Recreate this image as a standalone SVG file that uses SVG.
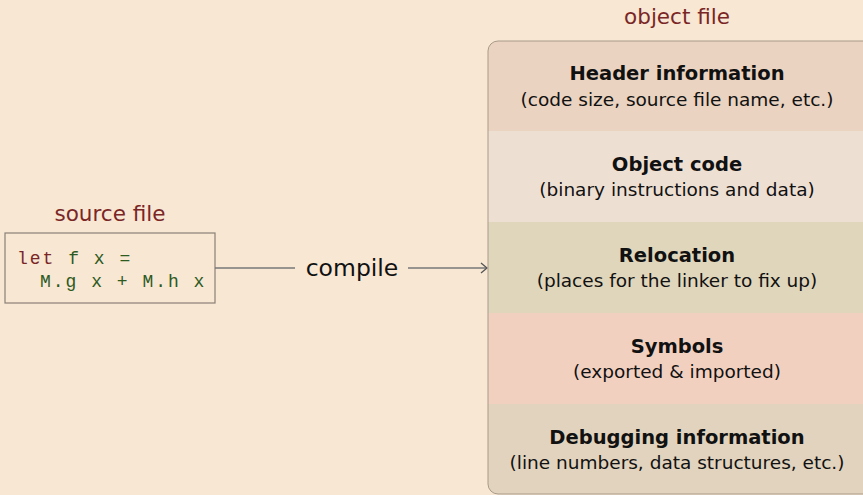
<svg xmlns="http://www.w3.org/2000/svg" width="863" height="495" viewBox="0 0 863 495">
<style>
.lbl{font-family:"DejaVu Sans","Liberation Sans",sans-serif;fill:#7a2626;font-size:21.5px;text-anchor:middle}
.t{font-family:"DejaVu Sans","Liberation Sans",sans-serif;font-weight:bold;font-size:19.5px;fill:#111;text-anchor:middle}
.s{font-family:"DejaVu Sans","Liberation Sans",sans-serif;font-size:18.5px;fill:#111;text-anchor:middle}
.code{font-family:"Liberation Mono","DejaVu Sans Mono",monospace;font-size:18px;letter-spacing:2px;fill:#2d5a1e}
.kw{fill:#7a2626}
.edge{stroke:#777;stroke-width:1.5;fill:none}
</style>
<defs>
<marker id="arr" markerWidth="10" markerHeight="12" refX="8" refY="6" orient="auto" markerUnits="userSpaceOnUse">
<path d="M2,1 L8,6 L2,11" fill="none" stroke="#555" stroke-width="1.3"/>
</marker>
<clipPath id="objclip"><rect x="488" y="41" width="390" height="453" rx="10"/></clipPath>
</defs>
<rect width="863" height="495" fill="#f8e7d3"/>
<g id="source">
<text class="lbl" x="110" y="221">source file</text>
<rect x="5" y="233" width="210" height="70" fill="#f8e7d3" stroke="#8a8078" stroke-width="1.2"/>
<text class="code" x="17" y="264"><tspan class="kw">let</tspan> f x =</text>
<text class="code" x="40" y="287">M.g x + M.h x</text>
</g>
<g id="connectors">
<line class="edge" x1="215" y1="268" x2="295" y2="268"/>
<line class="edge" x1="408" y1="268" x2="487" y2="268" marker-end="url(#arr)"/>
<text x="352" y="276" font-family="'DejaVu Sans','Liberation Sans',sans-serif" font-size="23.5" fill="#111" text-anchor="middle">compile</text>
</g>
<g id="object">
<text class="lbl" x="677" y="24">object file</text>
<g clip-path="url(#objclip)">
<rect x="488" y="41" width="390" height="90" fill="#ead3c0"/>
<rect x="488" y="131" width="390" height="91" fill="#eedfd3"/>
<rect x="488" y="222" width="390" height="91" fill="#e0d6bb"/>
<rect x="488" y="313" width="390" height="91" fill="#f2d0c0"/>
<rect x="488" y="404" width="390" height="91" fill="#e1d3bd"/>
</g>
<rect x="488" y="41" width="390" height="453" rx="10" fill="none" stroke="#a89a8a" stroke-width="1"/>
</g>
<g id="header"><text class="t" x="677" y="80">Header information</text><text class="s" x="677" y="106">(code size, source file name, etc.)</text></g>
<g id="objcode"><text class="t" x="677" y="171">Object code</text><text class="s" x="677" y="196">(binary instructions and data)</text></g>
<g id="relocation"><text class="t" x="677" y="262">Relocation</text><text class="s" x="677" y="287">(places for the linker to fix up)</text></g>
<g id="symbols"><text class="t" x="677" y="353">Symbols</text><text class="s" x="677" y="378">(exported &amp; imported)</text></g>
<g id="debug"><text class="t" x="677" y="444">Debugging information</text><text class="s" x="677" y="469">(line numbers, data structures, etc.)</text></g>
</svg>
